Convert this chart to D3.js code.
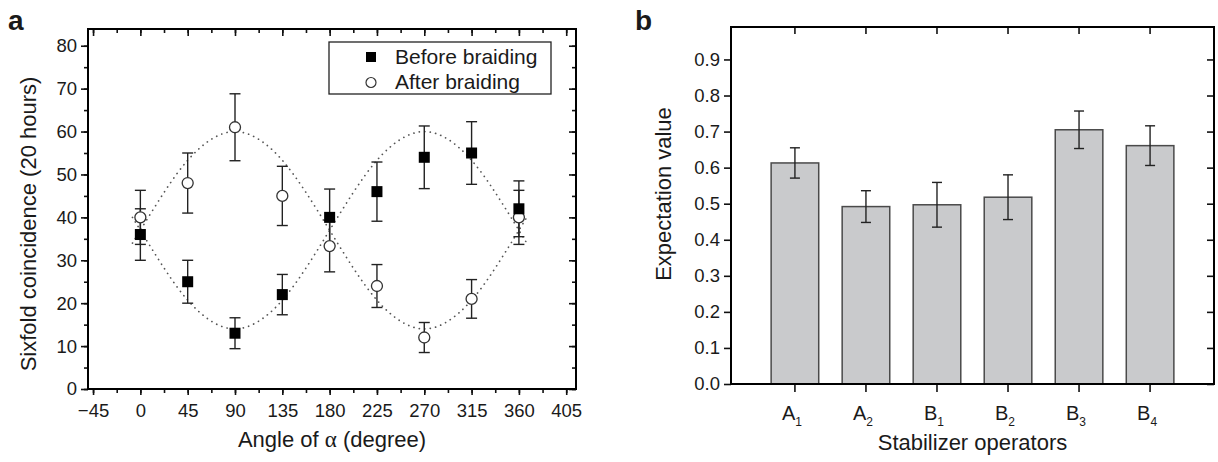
<!DOCTYPE html>
<html>
<head>
<meta charset="utf-8">
<script src="https://cdn.jsdelivr.net/npm/d3@7"></script>
<style>
  body { margin: 0; background: #fff; }
  text { font-family: "Liberation Sans", Arial, sans-serif; fill: #1a1a1a; }
</style>
</head>
<body>
<div id="fig"></div>
<script>
    var width = 1218;
    var height = 462;

    // panel a data
    var angles = [0, 45, 90, 135, 180, 225, 270, 315, 360];
    var beforeVals = [36, 25, 13, 22, 40, 46, 54, 55, 42];
    var beforeErr = [6, 5, 3.6, 4.7, 6.6, 6.9, 7.3, 7.3, 6.5];
    var afterVals = [40, 48, 61, 45, 33.3, 24, 12, 21, 40];
    var afterErr = [6.3, 7, 7.8, 6.9, 6, 5, 3.5, 4.5, 6.3];

    // dotted fit curves
    var fitAngles = [-7.5, 0, 22.5, 45, 67.5, 90, 112.5, 135, 157.5, 180, 202.5, 225, 247.5, 270, 292.5, 315, 337.5, 360, 367.5];
    var fitAfter = [34, 37, 45.8, 53.3, 58.2, 60, 58.2, 53.3, 45.8, 37, 28.2, 20.7, 15.8, 14, 15.8, 20.7, 28.2, 37, 40];
    var fitBefore = [40, 37, 28.2, 20.7, 15.8, 14, 15.8, 20.7, 28.2, 37, 45.8, 53.3, 58.2, 60, 58.2, 53.3, 45.8, 37, 34];

    var xTicksA = [-45, 0, 45, 90, 135, 180, 225, 270, 315, 360, 405];
    var yTicksA = [0, 10, 20, 30, 40, 50, 60, 70, 80];

    // panel b data
    var opNames = ["A", "A", "B", "B", "B", "B"];
    var opSubs = ["1", "2", "1", "2", "3", "4"];
    var expVals = [0.613, 0.492, 0.497, 0.518, 0.705, 0.661];
    var expErrs = [0.042, 0.044, 0.062, 0.062, 0.052, 0.055];
    var yTicksB = [0, 0.1, 0.2, 0.3, 0.4, 0.5, 0.6, 0.7, 0.8, 0.9];

    var svg = d3.select("#fig")
          .append("svg")
          .attr("width", width)
          .attr("height", height);

    // ---------- panel a ----------
    var ax = {left: 88, right: 576, top: 29, bottom: 389};

    var x = d3.scaleLinear().domain([-49.8, 414.3]).range([ax.left, ax.right]);
    var y = d3.scaleLinear().domain([0, 83.9]).range([ax.bottom, ax.top]);

    var a_g = svg.append("g");

    function styleAxis(g){
      g.select(".domain").remove();
      g.selectAll("line").attr("stroke", "#111").attr("stroke-width", 1.6);
      g.selectAll("text").attr("font-size", 18.5).attr("fill", "#1a1a1a")
        .attr("font-family", "Liberation Sans, Arial, sans-serif");
    }

    var minorX = d3.range(-45, 406, 22.5);
    var minorY = d3.range(0, 84, 5);

    // bottom
    a_g.append("g").attr("transform", "translate(0," + ax.bottom + ")")
      .call(d3.axisBottom(x).tickValues(minorX).tickSize(4).tickFormat(""))
      .call(styleAxis);
    a_g.append("g").attr("transform", "translate(0," + ax.bottom + ")")
      .call(d3.axisBottom(x).tickValues(xTicksA).tickSize(6).tickPadding(9))
      .call(styleAxis);
    // top (inward)
    a_g.append("g").attr("transform", "translate(0," + ax.top + ")")
      .call(d3.axisBottom(x).tickValues(minorX).tickSize(4).tickFormat(""))
      .call(styleAxis);
    a_g.append("g").attr("transform", "translate(0," + ax.top + ")")
      .call(d3.axisBottom(x).tickValues(xTicksA).tickSize(7).tickFormat(""))
      .call(styleAxis);
    // left
    a_g.append("g").attr("transform", "translate(" + ax.left + ",0)")
      .call(d3.axisLeft(y).tickValues(minorY).tickSize(4).tickFormat(""))
      .call(styleAxis);
    a_g.append("g").attr("transform", "translate(" + ax.left + ",0)")
      .call(d3.axisLeft(y).tickValues(yTicksA).tickSize(7).tickPadding(4))
      .call(styleAxis);
    // right (inward)
    a_g.append("g").attr("transform", "translate(" + ax.right + ",0)")
      .call(d3.axisLeft(y).tickValues(minorY).tickSize(4).tickFormat(""))
      .call(styleAxis);
    a_g.append("g").attr("transform", "translate(" + ax.right + ",0)")
      .call(d3.axisLeft(y).tickValues(yTicksA).tickSize(7).tickFormat(""))
      .call(styleAxis);

    // fit curves
    var fitLine = d3.line().curve(d3.curveNatural);
    [fitAfter, fitBefore].forEach(function(vals){
      a_g.append("path")
        .attr("d", fitLine(fitAngles.map(function(a, i){ return [x(a), y(vals[i])]; })))
        .attr("fill", "none")
        .attr("stroke", "#555")
        .attr("stroke-width", 1.7)
        .attr("stroke-linecap", "round")
        .attr("stroke-dasharray", "0.1 5.4");
    });

    function errBars(g, xs, vals, errs, capHalf){
      vals.forEach(function(v, i){
        var cx = xs[i];
        var e = g.append("g").attr("stroke", "#222").attr("stroke-width", 1.4);
        e.append("line").attr("x1", cx).attr("x2", cx).attr("y1", y(v - errs[i])).attr("y2", y(v + errs[i]));
        e.append("line").attr("x1", cx - capHalf).attr("x2", cx + capHalf).attr("y1", y(v + errs[i])).attr("y2", y(v + errs[i]));
        e.append("line").attr("x1", cx - capHalf).attr("x2", cx + capHalf).attr("y1", y(v - errs[i])).attr("y2", y(v - errs[i]));
      });
    }

    var xs = angles.map(function(a){ return x(a); });
    errBars(a_g, xs, beforeVals, beforeErr, 5.5);
    errBars(a_g, xs, afterVals, afterErr, 5.5);

    a_g.selectAll(".after")
      .data(afterVals)
      .enter()
      .append("circle")
      .attr("cx", function(d, i){ return xs[i]; })
      .attr("cy", function(d){ return y(d); })
      .attr("r", 5.5)
      .attr("fill", "#fff")
      .attr("stroke", "#333")
      .attr("stroke-width", 1.3);

    a_g.selectAll(".before")
      .data(beforeVals)
      .enter()
      .append("rect")
      .attr("x", function(d, i){ return xs[i] - 5.5; })
      .attr("y", function(d){ return y(d) - 5.5; })
      .attr("width", 11)
      .attr("height", 11)
      .attr("fill", "#000");

    a_g.append("rect")
      .attr("x", ax.left).attr("y", ax.top)
      .attr("width", ax.right - ax.left).attr("height", ax.bottom - ax.top)
      .attr("fill", "none").attr("stroke", "#000").attr("stroke-width", 2);

    // legend
    var leg = a_g.append("g");
    leg.append("rect").attr("x", 329).attr("y", 42).attr("width", 222).attr("height", 52)
      .attr("fill", "#fff").attr("stroke", "#222").attr("stroke-width", 1.3);
    leg.append("rect").attr("x", 366).attr("y", 52).attr("width", 10).attr("height", 10).attr("fill", "#000");
    leg.append("circle").attr("cx", 371).attr("cy", 82.5).attr("r", 5).attr("fill", "#fff")
      .attr("stroke", "#333").attr("stroke-width", 1.2);
    leg.append("text").attr("x", 395).attr("y", 64).attr("font-size", 21).text("Before braiding");
    leg.append("text").attr("x", 395).attr("y", 89).attr("font-size", 21).text("After braiding");

    var xt = a_g.append("text")
      .attr("x", (ax.left + ax.right) / 2).attr("y", 447)
      .attr("text-anchor", "middle").attr("font-size", 22);
    xt.append("tspan").text("Angle of ");
    xt.append("tspan").attr("font-family", "Liberation Serif, serif").attr("font-size", 23).text("α");
    xt.append("tspan").text(" (degree)");

    a_g.append("text")
      .attr("transform", "translate(36,224) rotate(-90)")
      .attr("text-anchor", "middle").attr("font-size", 22)
      .text("Sixfold coincidence (20 hours)");

    svg.append("text").attr("x", 8).attr("y", 30)
      .attr("font-size", 28).attr("font-weight", "bold").text("a");

    // ---------- panel b ----------
    var bx = {left: 731, right: 1214, top: 27, bottom: 384};
    var b_g = svg.append("g");

    var xb = d3.scaleBand().domain(d3.range(opNames.length))
      .range([bx.left, bx.right]).paddingInner(0.33).paddingOuter(0.565);
    var yb = d3.scaleLinear().domain([0, 0.99]).range([bx.bottom, bx.top]);

    b_g.selectAll(".bar")
      .data(expVals)
      .enter()
      .append("rect")
      .attr("x", function(d, i){ return xb(i); })
      .attr("y", function(d){ return yb(d); })
      .attr("width", xb.bandwidth())
      .attr("height", function(d){ return yb(0) - yb(d); })
      .attr("fill", "#c9cacc")
      .attr("stroke", "#4a4a4a")
      .attr("stroke-width", 1.5);

    expVals.forEach(function(v, i){
      var cx = xb(i) + xb.bandwidth() / 2;
      var e = b_g.append("g").attr("stroke", "#222").attr("stroke-width", 1.4);
      e.append("line").attr("x1", cx).attr("x2", cx).attr("y1", yb(v - expErrs[i])).attr("y2", yb(v + expErrs[i]));
      e.append("line").attr("x1", cx - 5).attr("x2", cx + 5).attr("y1", yb(v + expErrs[i])).attr("y2", yb(v + expErrs[i]));
      e.append("line").attr("x1", cx - 5).attr("x2", cx + 5).attr("y1", yb(v - expErrs[i])).attr("y2", yb(v - expErrs[i]));
    });

    var catX = d3.range(opNames.length).map(function(i){ return xb(i) + xb.bandwidth() / 2; });

    b_g.append("g").attr("transform", "translate(" + bx.left + ",0)")
      .call(d3.axisLeft(yb).tickValues(yTicksB).tickSize(7).tickPadding(4).tickFormat(d3.format(".1f")))
      .call(styleAxis);
    b_g.append("g").attr("transform", "translate(" + bx.right + ",0)")
      .call(d3.axisLeft(yb).tickValues(yTicksB).tickSize(7).tickFormat(""))
      .call(styleAxis);
    b_g.selectAll(".catTick")
      .data(catX)
      .enter()
      .append("line")
      .attr("x1", function(d){ return d; }).attr("x2", function(d){ return d; })
      .attr("y1", bx.bottom).attr("y2", bx.bottom + 8)
      .attr("stroke", "#111").attr("stroke-width", 1.6);
    b_g.selectAll(".catTickTop")
      .data(catX)
      .enter()
      .append("line")
      .attr("x1", function(d){ return d; }).attr("x2", function(d){ return d; })
      .attr("y1", bx.top).attr("y2", bx.top + 7)
      .attr("stroke", "#111").attr("stroke-width", 1.6);

    var labs = b_g.selectAll(".cat")
      .data(opNames)
      .enter()
      .append("text")
      .attr("x", function(d, i){ return catX[i] - 3; })
      .attr("y", 420)
      .attr("text-anchor", "middle")
      .attr("font-size", 20);
    labs.append("tspan").text(function(d){ return d; });
    labs.append("tspan").attr("font-size", 12).attr("dy", 6)
      .text(function(d, i){ return opSubs[i]; });

    b_g.append("rect")
      .attr("x", bx.left).attr("y", bx.top)
      .attr("width", bx.right - bx.left).attr("height", bx.bottom - bx.top)
      .attr("fill", "none").attr("stroke", "#000").attr("stroke-width", 2);

    b_g.append("text")
      .attr("x", (bx.left + bx.right) / 2).attr("y", 450)
      .attr("text-anchor", "middle").attr("font-size", 22)
      .text("Stabilizer operators");

    b_g.append("text")
      .attr("transform", "translate(671,194) rotate(-90)")
      .attr("text-anchor", "middle").attr("font-size", 22)
      .text("Expectation value");

    svg.append("text").attr("x", 635).attr("y", 30)
      .attr("font-size", 28).attr("font-weight", "bold").text("b");
</script>
</body>
</html>
